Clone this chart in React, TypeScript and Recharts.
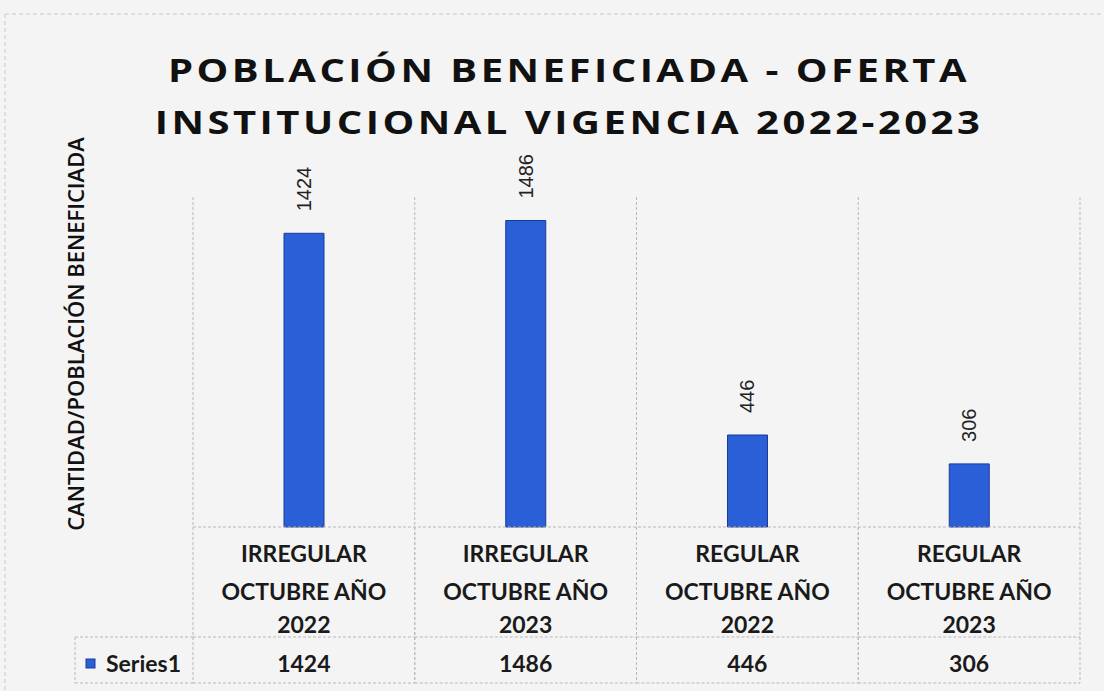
import React from "react";
import { BarChart, Bar, XAxis, YAxis, CartesianGrid, LabelList } from "recharts";

const categoryType = ["IRREGULAR", "IRREGULAR", "REGULAR", "REGULAR"];
const categoryPeriod = ["OCTUBRE AÑO", "OCTUBRE AÑO", "OCTUBRE AÑO", "OCTUBRE AÑO"];
const categoryYear = ["2022", "2023", "2022", "2023"];
const series1 = [1424, 1486, 446, 306];
const seriesName = "Series1";
const titleLines = ["POBLACIÓN BENEFICIADA - OFERTA", "INSTITUCIONAL VIGENCIA 2022-2023"];
const yAxisTitle = "CANTIDAD/POBLACIÓN BENEFICIADA";

const data = categoryType.map((t, i) => ({
  key: `${t} ${categoryPeriod[i]} ${categoryYear[i]}`,
  idx: i,
  value: series1[i],
}));

const W = 1104;
const H = 691;
const M = { top: 197, right: 24, left: 193, bottom: 8 };
const AXIS_H = 156;
const PLOT_W = W - M.left - M.right;
const CELL_W = PLOT_W / data.length;
const BG = "#f4f4f4";
const GRID = "#b8b8b8";
const BAR_FILL = "#2a5fd8";
const BAR_STROKE = "#1b3a98";
const LABEL_FONT = "Lato, 'Open Sans', sans-serif";

const Tick = (props: any) => {
  const { x, y, payload, index } = props;
  const i = data.findIndex((d) => d.key === payload.value);
  const k = i >= 0 ? i : index;
  const left = x - CELL_W / 2;
  const right = x + CELL_W / 2;
  const rowY = y + 110;
  const botY = y + 156;
  const txt = { fontFamily: LABEL_FONT, fontSize: 23, fontWeight: 700, fill: "#1a1a1a", textAnchor: "middle" as const };
  return (
    <g>
      <line x1={left} y1={y} x2={left} y2={botY} stroke={GRID} strokeDasharray="3 2" />
      <line x1={right} y1={y} x2={right} y2={botY} stroke={GRID} strokeDasharray="3 2" />
      <line x1={left} y1={rowY} x2={right} y2={rowY} stroke={GRID} strokeDasharray="3 2" />
      <line x1={left} y1={botY} x2={right} y2={botY} stroke={GRID} strokeDasharray="3 2" />
      <text x={x} y={y + 35} {...txt}>{categoryType[k]}</text>
      <text x={x} y={y + 73} {...txt}>{categoryPeriod[k]}</text>
      <text x={x} y={y + 106} {...txt}>{categoryYear[k]}</text>
      <text x={x} y={y + 145} {...txt}>{series1[k]}</text>
      {k === 0 && (
        <g>
          <line x1={75} y1={rowY} x2={left} y2={rowY} stroke={GRID} strokeDasharray="3 2" />
          <line x1={75} y1={botY} x2={left} y2={botY} stroke={GRID} strokeDasharray="3 2" />
          <line x1={75} y1={rowY} x2={75} y2={botY} stroke={GRID} strokeDasharray="3 2" />
          <rect x={86} y={rowY + 22} width={9} height={9} fill={BAR_FILL} stroke={BAR_STROKE} />
          <text x={106} y={rowY + 35} fontFamily={LABEL_FONT} fontSize={23} fontWeight={700} fill="#1a1a1a">
            {seriesName}
          </text>
        </g>
      )}
    </g>
  );
};

const BarLabel = (props: any) => {
  const { x, y, width, value } = props;
  const cx = x + width / 2;
  const by = y - 22;
  return (
    <text
      x={cx}
      y={by}
      transform={`rotate(-90 ${cx} ${by})`}
      textAnchor="start"
      dominantBaseline="central"
      fontFamily="'Liberation Sans', Arial, sans-serif"
      fontSize={20}
      fill="#222"
    >
      {value}
    </text>
  );
};

export default function App() {
  return (
    <div style={{ position: "absolute", left: 0, top: 0, width: W, height: H, background: BG, overflow: "hidden" }}>
      <svg width={W} height={H} style={{ position: "absolute", left: 0, top: 0 }}>
        <line x1={5} y1={14} x2={W} y2={14} stroke="#c8c8c8" strokeDasharray="4 3" />
        <line x1={5} y1={14} x2={5} y2={H} stroke="#c8c8c8" strokeDasharray="4 3" />
        {titleLines.map((t, i) => (
          <text
            key={i}
            x={0}
            y={0}
            transform={`translate(569 ${82 + i * 52}) scale(1 0.82)`}
            textAnchor="middle"
            fontFamily="'Open Sans', sans-serif"
            fontWeight={700}
            fontSize={40}
            letterSpacing={3.5}
            fill="#111"
          >
            {t}
          </text>
        ))}
        <text
          x={75}
          y={334}
          transform="rotate(-90 75 334)"
          textAnchor="middle"
          dominantBaseline="central"
          fontFamily="'Open Sans', sans-serif"
          fontWeight={600}
          fontSize={22}
          fill="#111"
        >
          {yAxisTitle}
        </text>
      </svg>
      <div style={{ position: "absolute", left: 0, top: 0 }}>
        <BarChart width={W} height={H} data={data} margin={M} barSize={40}>
          <CartesianGrid
            horizontal={false}
            stroke={GRID}
            strokeDasharray="3 2"
            verticalCoordinatesGenerator={({ offset }: any) =>
              data.map((_, i) => offset.left + (i * offset.width) / data.length).concat([offset.left + offset.width])
            }
          />
          <XAxis
            dataKey="key"
            height={AXIS_H}
            axisLine={{ stroke: GRID, strokeDasharray: "3 2" }}
            tickLine={false}
            tickSize={0}
            tickMargin={0}
            interval={0}
            tick={<Tick />}
          />
          <YAxis hide domain={[0, 1600]} />
          <Bar dataKey="value" fill={BAR_FILL} stroke={BAR_STROKE} strokeWidth={1} isAnimationActive={false}>
            <LabelList dataKey="value" content={<BarLabel />} />
          </Bar>
        </BarChart>
      </div>
    </div>
  );
}
